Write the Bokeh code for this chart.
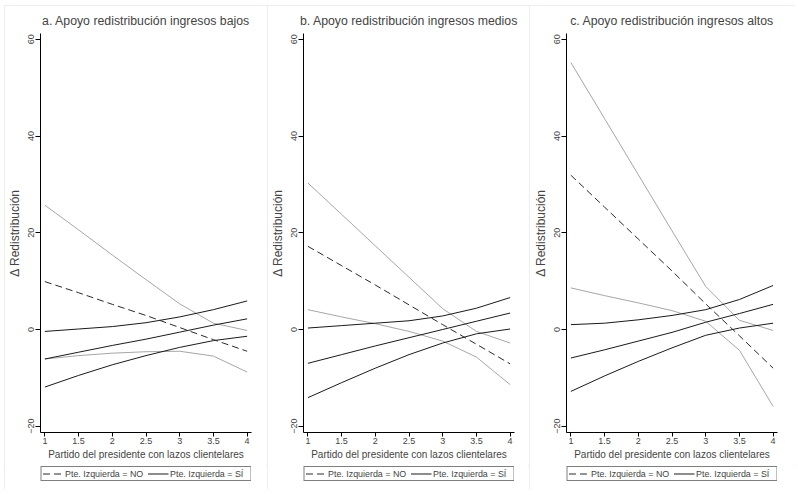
from bokeh.plotting import figure
from bokeh.layouts import row, column
from bokeh.models import Range1d, FixedTicker, Legend, LegendItem
from bokeh.embed import file_html
from bokeh.resources import INLINE

# ---- data ----
x_vals = [1, 1.5, 2, 2.5, 3, 3.5, 4]
x_tick_labels = ["1", "1.5", "2", "2.5", "3", "3.5", "4"]
y_ticks = [-20, 0, 20, 40, 60]
y_tick_labels = ["\u221220", "0", "20", "40", "60"]

titles = ["a. Apoyo redistribución ingresos bajos",
          "b. Apoyo redistribución ingresos medios",
          "c. Apoyo redistribución ingresos altos"]
legend_labels = ["Pte. Izquierda = NO", "Pte. Izquierda = SÍ"]
x_label = "Partido del presidente con lazos clientelares"
y_label = "Δ Redistribución"

# panel a (ingresos bajos)
a_no_est = [9.9, 7.6, 5.2, 2.9, 0.4, -2.1, -4.5]
a_no_lo = [-6.1, -5.4, -4.9, -4.6, -4.5, -5.5, -8.8]
a_no_hi = [25.7, 20.6, 15.4, 10.3, 5.3, 1.3, -0.2]
a_si_est = [-6.1, -4.7, -3.3, -2.0, -0.55, 0.9, 2.2]
a_si_lo = [-11.9, -9.5, -7.3, -5.4, -3.7, -2.3, -1.4]
a_si_hi = [-0.4, 0.1, 0.6, 1.4, 2.6, 4.1, 5.9]

# panel b (ingresos medios)
b_no_est = [17.2, 13.2, 9.2, 5.1, 1.0, -3.05, -7.1]
b_no_lo = [4.1, 2.6, 1.2, -0.4, -2.4, -5.7, -11.4]
b_no_hi = [30.3, 23.8, 17.3, 10.8, 4.3, -0.4, -2.8]
b_si_est = [-7.0, -5.2, -3.4, -1.7, 0.0, 1.7, 3.4]
b_si_lo = [-14.1, -11.0, -8.0, -5.2, -2.8, -0.9, 0.1]
b_si_hi = [0.3, 0.8, 1.3, 1.8, 2.8, 4.4, 6.6]

# panel c (ingresos altos)
c_no_est = [31.9, 25.3, 18.7, 12.1, 5.3, -1.3, -8.0]
c_no_lo = [8.6, 7.0, 5.5, 3.9, 1.7, -4.3, -15.9]
c_no_hi = [55.2, 43.6, 32.0, 20.4, 8.9, 1.9, -0.2]
c_si_est = [-5.9, -4.2, -2.4, -0.6, 1.5, 3.3, 5.2]
c_si_lo = [-12.8, -9.6, -6.6, -3.8, -1.2, 0.3, 1.3]
c_si_hi = [1.0, 1.3, 2.0, 2.9, 4.1, 6.2, 9.1]

FONT = "Liberation Sans"
GRAY = "#a6a6a6"
BLACK = "#1a1a1a"
DASHC = "#2a2a2a"
DASH = "7 4"


def make_panel(title, no_est, no_lo, no_hi, si_est, si_lo, si_hi, width, bl, br):
    p = figure(width=width, height=460,
               x_range=Range1d(0.935, 4.065), y_range=Range1d(-21.3, 61.2),
               output_backend="svg", toolbar_location=None,
               min_border_left=bl, min_border_right=br,
               min_border_top=28, min_border_bottom=33,
               title=title)
    p.title.text_font = FONT
    p.title.text_font_size = "12.3px"
    p.title.text_font_style = "normal"
    p.title.align = "center"
    p.title.standoff = 12
    p.outline_line_color = None
    p.grid.visible = False
    p.background_fill_color = "white"
    p.border_fill_color = "white"

    p.line(x_vals, no_hi, line_color=GRAY, line_width=1)
    p.line(x_vals, no_lo, line_color=GRAY, line_width=1)
    p.line(x_vals, si_hi, line_color=BLACK, line_width=1)
    p.line(x_vals, si_lo, line_color=BLACK, line_width=1)
    p.line(x_vals, si_est, line_color=BLACK, line_width=1)
    p.line(x_vals, no_est, line_color=DASHC, line_width=1, line_dash=DASH)

    xa = p.xaxis[0]
    xa.ticker = FixedTicker(ticks=x_vals)
    xa.major_label_overrides = {v: s for v, s in zip(x_vals, x_tick_labels)}
    xa.axis_label = x_label
    xa.axis_label_text_font = FONT
    xa.axis_label_text_font_size = "10px"
    xa.axis_label_text_font_style = "normal"
    xa.axis_label_standoff = 2
    xa.major_label_text_font = FONT
    xa.major_label_text_font_size = "9px"
    xa.major_label_standoff = 1
    xa.major_tick_out = 4
    xa.major_tick_in = 0
    xa.minor_tick_out = 0
    xa.minor_tick_in = 0
    xa.axis_line_color = "black"
    xa.major_tick_line_color = "black"

    ya = p.yaxis[0]
    ya.ticker = FixedTicker(ticks=y_ticks)
    ya.major_label_overrides = {v: s for v, s in zip(y_ticks, y_tick_labels)}
    ya.major_label_orientation = "vertical"
    ya.axis_label = y_label
    ya.axis_label_text_font = FONT
    ya.axis_label_text_font_size = "12px"
    ya.axis_label_text_font_style = "normal"
    ya.axis_label_standoff = 4
    ya.major_label_text_font = FONT
    ya.major_label_text_font_size = "9px"
    ya.major_label_standoff = 1
    ya.major_tick_out = 5
    ya.major_tick_in = 0
    ya.minor_tick_out = 0
    ya.minor_tick_in = 0
    ya.axis_line_color = "black"
    ya.major_tick_line_color = "black"

    # legend strip below the panel (data lines kept out of its visible range)
    lg = figure(width=width, height=24, x_range=Range1d(0, 1), y_range=Range1d(1000, 1001),
                output_backend="svg", toolbar_location=None,
                x_axis_type=None, y_axis_type=None,
                min_border_left=bl, min_border_right=br,
                min_border_top=0, min_border_bottom=0)
    lg.outline_line_color = None
    lg.grid.visible = False
    lg.border_fill_color = "white"
    lg.background_fill_color = "white"
    r_no = lg.line(x_vals, no_est, line_color=DASHC, line_width=1, line_dash=DASH)
    r_si = lg.line(x_vals, si_est, line_color=BLACK, line_width=1)
    legend = Legend(items=[LegendItem(label=legend_labels[0], renderers=[r_no]),
                           LegendItem(label=legend_labels[1], renderers=[r_si])],
                    orientation="horizontal", location="top",
                    border_line_color="black", border_line_width=1,
                    background_fill_color="white", background_fill_alpha=1,
                    padding=1, margin=1, spacing=3,
                    glyph_width=21, glyph_height=11, label_height=11,
                    label_width=79, label_standoff=2, label_text_font=FONT,
                    label_text_font_size="8.9px")
    lg.add_layout(legend, "center")
    return column(p, lg, spacing=0,
                  styles={"outline": "1px solid #e4eaf0", "outline-offset": "-1px"})


pa = make_panel(titles[0], a_no_est, a_no_lo, a_no_hi, a_si_est, a_si_lo, a_si_hi, 263, 36, 16)
pb = make_panel(titles[1], b_no_est, b_no_lo, b_no_hi, b_si_est, b_si_lo, b_si_hi, 262, 36, 15)
pc = make_panel(titles[2], c_no_est, c_no_lo, c_no_hi, c_si_est, c_si_lo, c_si_hi, 266, 37, 18)

layout = row(pa, pb, pc, spacing=0, margin=(5, 0, 0, 4))
open("out.html", "w").write(file_html(layout, INLINE))
